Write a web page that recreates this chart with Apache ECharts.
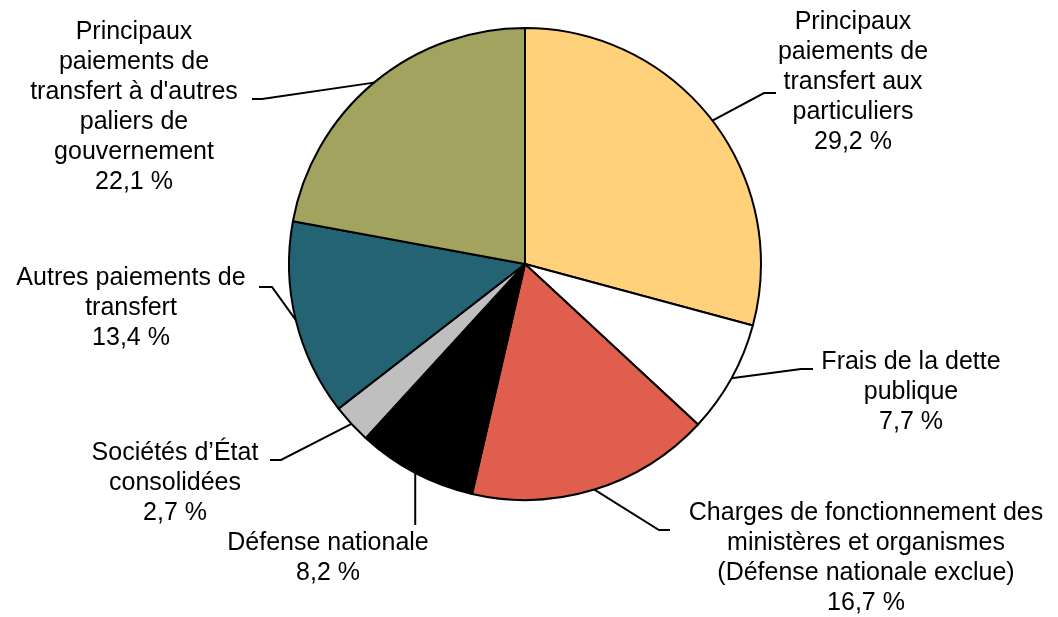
<!DOCTYPE html>
<html>
<head>
<meta charset="utf-8">
<script src="https://cdn.jsdelivr.net/npm/echarts@6/dist/echarts.min.js"></script>
<style>
  html, body { margin: 0; padding: 0; background: #fff; }
  #chart { width: 1058px; height: 617px; }
</style>
</head>
<body>
<div id="chart"></div>
<script>
// categories, clockwise from 12 o'clock
const categories = [
  "Principaux\npaiements de\ntransfert aux\nparticuliers",
  "Frais de la dette\npublique",
  "Charges de fonctionnement des\nministères et organismes\n(Défense nationale exclue)",
  "Défense nationale",
  "Sociétés d’État\nconsolidées",
  "Autres paiements de\ntransfert",
  "Principaux\npaiements de\ntransfert à d'autres\npaliers de\ngouvernement"
];
const shares = [29.2, 7.7, 16.7, 8.2, 2.7, 13.4, 22.1];
const colors = ["#FED17A", "#FFFFFF", "#E05E4D", "#000000", "#BFBFBF", "#236374", "#A2A35E"];

// label layout: text centre x / top y, leader elbow and end
const labelSpots = [
  { x: 853, y: 7, elbow: [764, 93], end: [776, 93] },
  { x: 911, y: 347, elbow: [801, 369], end: [813, 369] },
  { x: 866, y: 498, elbow: [659, 530], end: [670, 530] },
  { x: 328, y: 528, elbow: null, end: [null, 525] },
  { x: 175, y: 438, elbow: [281, 460], end: [270, 460] },
  { x: 131, y: 263, elbow: [272, 287], end: [259, 287] },
  { x: 134, y: 17, elbow: [262, 99], end: [252, 99] }
];

const fmt = (v) => v.toFixed(1).replace(".", ",") + " %";

const chart = echarts.init(document.getElementById("chart"));
chart.setOption({
  animation: false,
  backgroundColor: "#fff",
  series: [{
    type: "pie",
    center: [525, 264],
    radius: 236,
    startAngle: 90,
    clockwise: true,
    data: categories.map((name, i) => ({
      name,
      value: shares[i],
      itemStyle: { color: colors[i] }
    })),
    itemStyle: { borderColor: "#000", borderWidth: 2 },
    label: {
      show: true,
      position: "outside",
      formatter: (p) => p.name + "\n" + fmt(p.value),
      fontFamily: "Liberation Sans, Arial, sans-serif",
      fontSize: 25,
      lineHeight: 30,
      color: "#000",
      align: "center"
    },
    labelLine: {
      show: true,
      lineStyle: { color: "#000", width: 2 }
    },
    labelLayout: (params) => {
      const s = labelSpots[params.dataIndex];
      const p0 = params.labelLinePoints ? params.labelLinePoints[0] : [s.x, s.y];
      let pts;
      if (s.elbow) {
        pts = [p0, s.elbow, s.end];
      } else {
        const e = [p0[0], s.end[1]];
        pts = [p0, [p0[0], (p0[1] + e[1]) / 2], e];
      }
      return {
        x: s.x,
        y: s.y,
        align: "center",
        verticalAlign: "top",
        labelLinePoints: pts
      };
    },
    emphasis: { disabled: true }
  }]
});
</script>
</body>
</html>
